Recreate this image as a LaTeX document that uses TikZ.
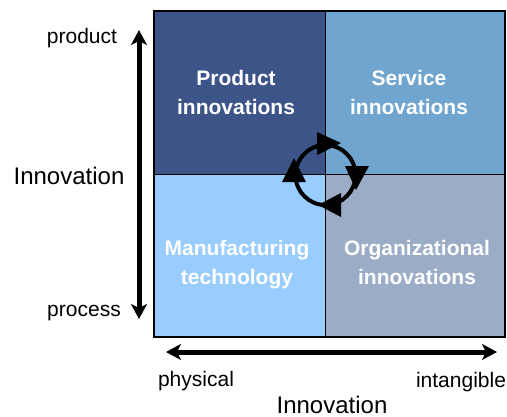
\documentclass[tikz,border=0pt]{standalone}
\usepackage{fontspec}
\setmainfont{Liberation Sans}
\usetikzlibrary{arrows.meta,positioning}
\definecolor{prodblue}{HTML}{3C5488}
\definecolor{servblue}{HTML}{6FA5CF}
\definecolor{manublue}{HTML}{99CCFF}
\definecolor{orggrey}{HTML}{9BACC6}
\tikzset{
    celltext/.style={white, align=center, font=\fontsize{21}{29}\selectfont\bfseries},
    axistext/.style={black, font=\fontsize{21}{25}\selectfont},
    axistitle/.style={black, font=\fontsize{24}{28}\selectfont},
    axisarrow/.style={line width=5pt, {Stealth[length=15pt,width=16pt,inset=4pt]}-{Stealth[length=15pt,width=16pt,inset=4pt]}},
    cyclehead/.style={fill=black, draw=none}
}
\begin{document}
\begin{tikzpicture}[x=1pt,y=-1pt]
    \useasboundingbox (0,0) rectangle (507,416);

    % Quadrants
    \fill[prodblue] (154,11) rectangle (325.5,174);
    \fill[servblue] (325.5,11) rectangle (505,174);
    \fill[manublue] (154,174) rectangle (325.5,337);
    \fill[orggrey] (325.5,174) rectangle (505,337);
    \draw[black, line width=0.8pt] (325.5,11) -- (325.5,337);
    \draw[black, line width=0.8pt] (154,174) -- (505,174);
    \draw[black, line width=1.3pt] (154,11) rectangle (505,337);

    % Quadrant labels
    \node[celltext] (product) at (236,92) {Product\\innovations};
    \node[celltext] (service) at (409,92) {Service\\innovations};
    \node[celltext] (manufacturing) at (237,265) {Manufacturing\\technology};
    \node[celltext] (organizational) at (417,262) {Organizational\\innovations};

    % Cycle in the middle
    \draw[black, line width=4pt] (325.5,175) circle (30);
    \fill[cyclehead] (317,132) -- (341,143) -- (317,155) -- cycle;
    \fill[cyclehead] (345,166) -- (369,166) -- (356,190) -- cycle;
    \fill[cyclehead] (341,193) -- (341,217) -- (318,205) -- cycle;
    \fill[cyclehead] (282,182) -- (306,182) -- (294,158) -- cycle;

    % Vertical axis
    \coordinate (vtop) at (139,30);
    \coordinate (vbottom) at (139,319);
    \draw[axisarrow] (vbottom) -- (vtop);
    \node[axistext] (vproduct) at (82,38) {product};
    \node[axistext] (vprocess) at (84,313) {process};
    \node[axistitle] (vtitle) at (69,176) {Innovation};

    % Horizontal axis
    \coordinate (hleft) at (166,352);
    \coordinate (hright) at (497,352);
    \draw[axisarrow] (hleft) -- (hright);
    \node[axistext] (hphysical) at (196,381) {physical};
    \node[axistext] (hintangible) at (461,382) {intangible};
    \node[axistitle, inner sep=0pt] (htitle) at (332,405) {Innovation};
\end{tikzpicture}
\end{document}
